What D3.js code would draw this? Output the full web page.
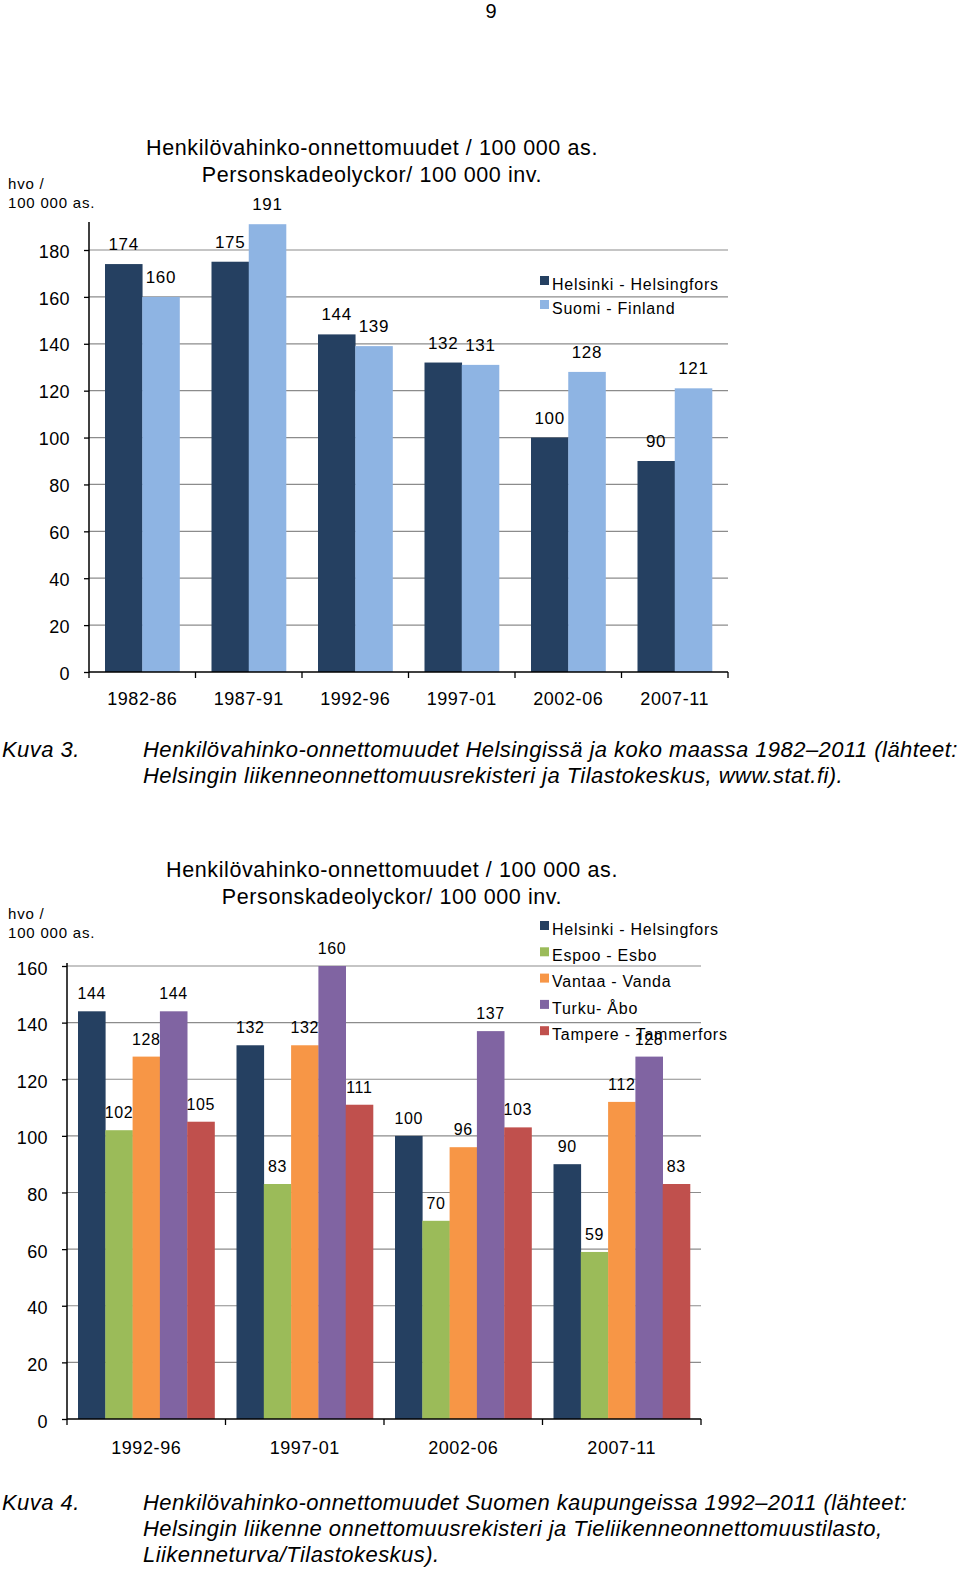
<!DOCTYPE html>
<html><head><meta charset="utf-8">
<script src="https://cdn.jsdelivr.net/npm/d3@7"></script>
<style>
body{margin:0;background:#fff;}
text{font-family:"Liberation Sans",Arial,sans-serif;fill:#000;}
</style></head><body>
<svg id="c" width="960" height="1572"></svg>
<script>
// ---- Data: chart 1 ----
const periods1 = ["1982-86","1987-91","1992-96","1997-01","2002-06","2007-11"];
const helsinki1 = [174,175,144,132,100,90];
const finland1 = [160,191,139,131,128,121];
const yTicks1 = [0,20,40,60,80,100,120,140,160,180];
const series1Names = ["Helsinki - Helsingfors","Suomi - Finland"];
// ---- Data: chart 2 ----
const periods2 = ["1992-96","1997-01","2002-06","2007-11"];
const helsinki2 = [144,132,100,90];
const espoo2 = [102,83,70,59];
const vantaa2 = [128,132,96,112];
const turku2 = [144,160,137,128];
const tampere2 = [105,111,103,83];
const yTicks2 = [0,20,40,60,80,100,120,140,160];
const series2Names = ["Helsinki - Helsingfors","Espoo - Esbo","Vantaa - Vanda","Turku- Åbo","Tampere - Tammerfors"];
const titleLines = ["Henkilövahinko-onnettomuudet / 100 000 as.","Personskadeolyckor/ 100 000 inv."];
const unitLines = ["hvo /","100 000 as."];
const caption3 = ["Henkilövahinko-onnettomuudet Helsingissä ja koko maassa 1982–2011 (lähteet:","Helsingin liikenneonnettomuusrekisteri ja Tilastokeskus, www.stat.fi)."];
const caption4 = ["Henkilövahinko-onnettomuudet Suomen kaupungeissa 1992–2011 (lähteet:","Helsingin liikenne onnettomuusrekisteri ja Tieliikenneonnettomuustilasto,","Liikenneturva/Tilastokeskus)."];

const svg = d3.select("#c");
svg.append("text").attr("x",491).attr("y",18).attr("text-anchor","middle").attr("font-size",20).text("9");

function drawChart(o){
  const g = svg.append("g");
  const y = d3.scaleLinear().domain([0,o.gridMax]).range([o.y0,o.yTop]);
  const x0 = d3.scaleBand().domain(o.cats).range([o.x0,o.x1]).paddingInner(0).paddingOuter(0);
  const x1 = d3.scaleBand().domain(d3.range(o.series.length)).range([o.pad, x0.bandwidth()-o.pad]).padding(0);
  // gridlines
  g.selectAll(".grid").data(o.ticks.filter(t=>t>0)).join("line")
    .attr("x1",o.x0).attr("x2",o.x1).attr("y1",d=>y(d)).attr("y2",d=>y(d))
    .attr("stroke","#8c8c8c").attr("stroke-width",1.2);
  // bars
  o.series.forEach((s,si)=>{
    g.selectAll(".b"+si).data(s.values).join("rect")
      .attr("x",(d,i)=>x0(o.cats[i])+x1(si)).attr("width",x1.bandwidth()+0.3)
      .attr("y",d=>y(d)).attr("height",d=>y(0)-y(d)).attr("fill",s.color);
  });
  // y axis
  const ya = d3.axisLeft(y).tickValues(o.ticks).tickSize(5).tickPadding(o.tickPad).tickFormat(d3.format("d"));
  const yg = g.append("g").attr("transform",`translate(${o.x0},0)`).call(ya);
  yg.select(".domain").remove();
  yg.selectAll("line").attr("stroke","#000").attr("stroke-width",1.3);
  yg.selectAll("text").attr("font-size",o.tickFont).attr("font-family","Liberation Sans, Arial").attr("letter-spacing",0.4).attr("dy",o.tickDy);
  g.append("line").attr("x1",o.x0).attr("x2",o.x0).attr("y1",o.axisTop).attr("y2",o.y0+0.5).attr("stroke","#000").attr("stroke-width",1.5);
  // x axis
  const xa = d3.axisBottom(x0).tickSize(0).tickPadding(o.xPad);
  const xg = g.append("g").attr("transform",`translate(0,${o.y0})`).call(xa);
  xg.select(".domain").remove();
  xg.selectAll("text").attr("font-size",o.tickFont).attr("font-family","Liberation Sans, Arial").attr("letter-spacing",0.6);
  g.append("line").attr("x1",o.x0).attr("x2",o.x1).attr("y1",o.y0).attr("y2",o.y0).attr("stroke","#000").attr("stroke-width",1.5);
  const bounds = o.cats.map(c=>x0(c)).concat([o.x1]);
  g.selectAll(".xt").data(bounds).join("line").attr("x1",d=>d).attr("x2",d=>d)
    .attr("y1",o.y0).attr("y2",o.y0+6).attr("stroke","#000").attr("stroke-width",1.3);
  // value labels
  o.series.forEach((s,si)=>{
    g.selectAll(".l"+si).data(s.values).join("text")
      .attr("x",(d,i)=>x0(o.cats[i])+x1(si)+x1.bandwidth()/2)
      .attr("y",d=>y(d)-o.labOff).attr("text-anchor","middle").attr("font-size",o.labFont).attr("letter-spacing",0.6).text(d=>d);
  });
  // title
  titleLines.forEach((t,i)=>g.append("text").attr("x",o.titleX).attr("y",o.titleY+i*27).attr("text-anchor","middle").attr("font-size",21.5).attr("letter-spacing",0.6).text(t));
  unitLines.forEach((t,i)=>g.append("text").attr("x",8).attr("y",o.unitY+i*19).attr("font-size",15).attr("letter-spacing",0.8).text(t));
  // legend
  o.series.forEach((s,si)=>{
    const ly = o.legY + si*o.legStep;
    g.append("rect").attr("x",540).attr("y",ly-7).attr("width",9).attr("height",9).attr("fill",s.color);
    g.append("text").attr("x",552).attr("y",ly+1).attr("dy","0.35em").attr("font-size",16).attr("letter-spacing",0.75).text(s.name);
  });
}

drawChart({
  cats:periods1, x0:89, x1:728, y0:672, yTop:250, gridMax:180, axisTop:222,
  pad:16, ticks:yTicks1, tickFont:18, tickPad:14, tickDy:"0.4em", xPad:20, labOff:14, labFont:17,
  titleX:372, titleY:155, unitY:189, legY:283, legStep:24,
  series:[{name:series1Names[0],values:helsinki1,color:"#254061"},{name:series1Names[1],values:finland1,color:"#8eb4e3"}]
});
drawChart({
  cats:periods2, x0:67, x1:701, y0:1419, yTop:966, gridMax:160, axisTop:963,
  pad:11, ticks:yTicks2, tickFont:18, tickPad:14, tickDy:"0.45em", xPad:22, labOff:12, labFont:16,
  titleX:392, titleY:877, unitY:919, legY:928, legStep:26.3,
  series:[{name:series2Names[0],values:helsinki2,color:"#254061"},{name:series2Names[1],values:espoo2,color:"#9bbb59"},
          {name:series2Names[2],values:vantaa2,color:"#f79646"},{name:series2Names[3],values:turku2,color:"#8064a2"},
          {name:series2Names[4],values:tampere2,color:"#c0504d"}]
});

function caption(label, lines, y0){
  svg.append("text").attr("x",2).attr("y",y0).attr("font-size",22).attr("font-style","italic").attr("letter-spacing",0.45).text(label);
  lines.forEach((t,i)=>svg.append("text").attr("x",143).attr("y",y0+i*26).attr("font-size",22).attr("font-style","italic").attr("letter-spacing",0.45).text(t));
}
caption("Kuva 3.", caption3, 757);
caption("Kuva 4.", caption4, 1510);
</script></body></html>
